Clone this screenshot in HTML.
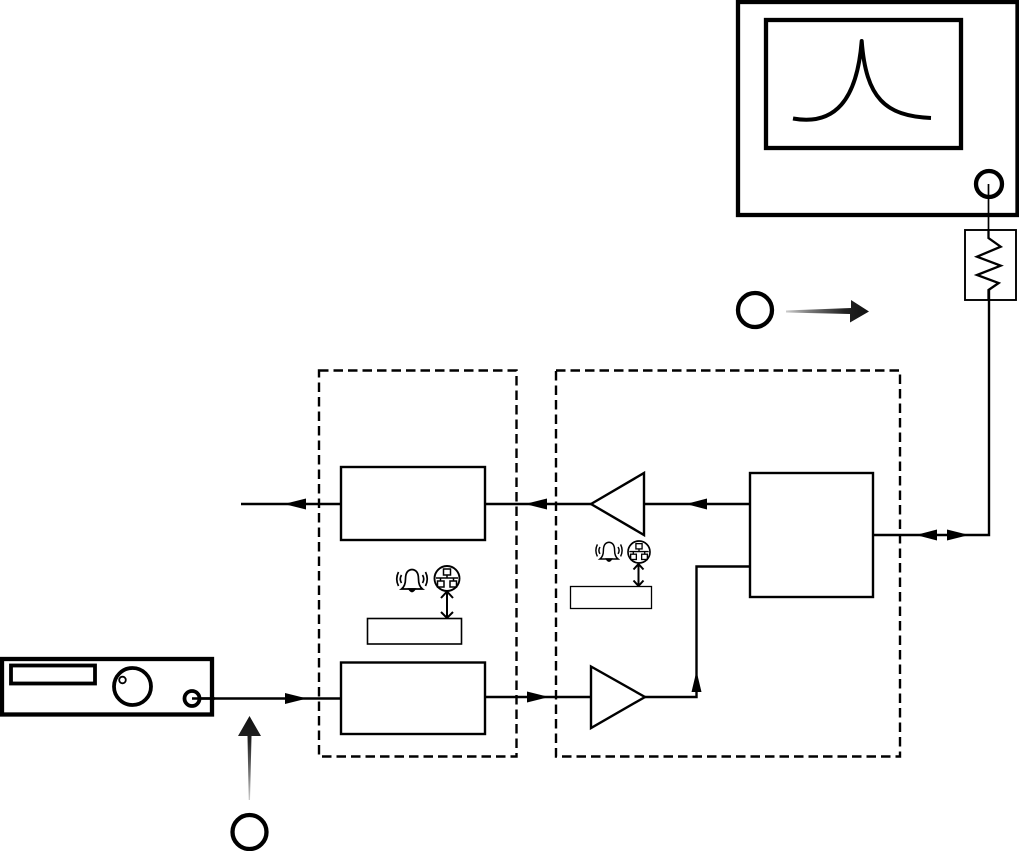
<!DOCTYPE html>
<html><head><meta charset="utf-8"><style>html,body{margin:0;padding:0;background:#fff;width:1019px;height:851px;overflow:hidden}svg{display:block}</style></head>
<body>
<svg width="1019" height="851" viewBox="0 0 1019 851" xmlns="http://www.w3.org/2000/svg">
<defs>
<linearGradient id="gh" gradientUnits="userSpaceOnUse" x1="786" y1="0" x2="869" y2="0"><stop offset="0" stop-color="#ccc"/><stop offset="0.3" stop-color="#777"/><stop offset="0.7" stop-color="#222"/><stop offset="1" stop-color="#111"/></linearGradient>
<linearGradient id="gv" gradientUnits="userSpaceOnUse" x1="0" y1="800" x2="0" y2="716"><stop offset="0" stop-color="#ccc"/><stop offset="0.3" stop-color="#777"/><stop offset="0.7" stop-color="#222"/><stop offset="1" stop-color="#111"/></linearGradient>
<g id="bell" fill="none" stroke="#000" stroke-width="1.7">
<path d="M-10.5 7 Q-6.5 4 -6.5 -3 Q-6.5 -12 0 -12.5 Q6.5 -12 6.5 -3 Q6.5 4 10.5 7 Z" fill="#fff"/>
<path d="M-3 7 Q0 12 3 7 Z" fill="#000"/>
<path d="M-10.5 -7 Q-13 -3 -10.5 1 M-13.5 -10 Q-17 -3 -13.5 4 M10.5 -7 Q13 -3 10.5 1 M13.5 -10 Q17 -3 13.5 4"/>
</g>
<g id="net" fill="none" stroke="#000">
<circle cx="0" cy="0" r="12.5" stroke-width="1.9" fill="#fff"/>
<rect x="-3.5" y="-9.5" width="7" height="6" stroke-width="1.5"/>
<path d="M0 -3.5V-0.5M-6.5 2.5V-0.5H6.5V2.5M-11 -0.5H11" stroke-width="1.5"/>
<rect x="-9.5" y="2.5" width="6.5" height="6" stroke-width="1.5"/>
<rect x="3" y="2.5" width="6.5" height="6" stroke-width="1.5"/>
</g>
</defs>

<!-- analyzer -->
<rect x="738" y="2" width="279.5" height="213" fill="none" stroke="#000" stroke-width="4.3"/>
<rect x="766" y="20" width="195" height="128" fill="none" stroke="#000" stroke-width="4.3"/>
<path d="M793 118.5 C835 126 857 100 861.7 41 C866 98 885 116 931 118" fill="none" stroke="#000" stroke-width="4" stroke-linejoin="round"/>
<circle cx="989" cy="184" r="13" fill="none" stroke="#000" stroke-width="4.3"/>
<path d="M988.5 184V238" stroke="#000" stroke-width="1.7" fill="none"/>
<rect x="965" y="230" width="51" height="70" fill="none" stroke="#000" stroke-width="1.9"/>
<path d="M988.5 229V238L1000.7 246.7L977 256.7L1000.7 265.7L977 275L998.7 283L988.5 290V300" fill="none" stroke="#000" stroke-width="2.3"/>

<!-- gradient arrow right with circle -->
<circle cx="755" cy="310" r="17" fill="#fff" stroke="#000" stroke-width="4.3"/>
<path d="M786 310.5L851 308V300L869 311.5L850 322.5V314L786 312.5Z" fill="url(#gh)"/>

<!-- dashed groups -->
<rect x="319" y="370.5" width="197.5" height="386" fill="none" stroke="#000" stroke-width="2.4" stroke-dasharray="9.5 5"/>
<rect x="556" y="370.5" width="344" height="386" fill="none" stroke="#000" stroke-width="2.4" stroke-dasharray="9.5 5"/>

<!-- blocks -->
<rect x="341" y="467" width="144" height="73" fill="#fff" stroke="#000" stroke-width="2.4"/>
<rect x="341" y="662.5" width="144" height="71.5" fill="#fff" stroke="#000" stroke-width="2.4"/>
<rect x="750" y="473" width="123" height="124" fill="#fff" stroke="#000" stroke-width="2.4"/>

<!-- connectors -->
<g fill="none" stroke="#000" stroke-width="2.4">
<path d="M241 504H341"/>
<path d="M485 504H591"/>
<path d="M644 504H750"/>
<path d="M873 535H989V290"/>
<path d="M192 698.5H341"/>
<path d="M485 697H591"/>
<path d="M645 697H696.5V566.5H750"/>
</g>

<!-- triangles -->
<path d="M591 504L644 473V535Z" fill="#fff" stroke="#000" stroke-width="2.4" stroke-linejoin="miter"/>
<path d="M591 666.5V728L645 697Z" fill="#fff" stroke="#000" stroke-width="2.4" stroke-linejoin="miter"/>

<!-- arrowheads -->
<g fill="#000">
<path d="M284 504L306 498.5V509.5Z"/>
<path d="M525 504L547 498.5V509.5Z"/>
<path d="M686 504L707 498.5V509.5Z"/>
<path d="M916 535L937 529.5V540.5Z"/>
<path d="M969 535L947 529.5V540.5Z"/>
<path d="M307 698.5L285 693V704Z"/>
<path d="M549 697L527 691.5V702.5Z"/>
<path d="M696.5 671L691.5 692H701.5Z"/>
</g>

<!-- signal generator -->
<rect x="2" y="659" width="210" height="55.5" fill="none" stroke="#000" stroke-width="4.3"/>
<rect x="11" y="665.5" width="84" height="18" fill="none" stroke="#000" stroke-width="3.8"/>
<circle cx="132.5" cy="686.5" r="18.5" fill="none" stroke="#000" stroke-width="3.8"/>
<circle cx="122.5" cy="680" r="3.3" fill="none" stroke="#000" stroke-width="1.8"/>
<circle cx="192" cy="698.5" r="7.5" fill="#fff" stroke="#000" stroke-width="3.8"/>
<path d="M192 698.5H215" stroke="#000" stroke-width="2.4"/>

<!-- gradient arrow up with circle -->
<path d="M248.7 800L247.5 736H238L249.5 716L261 736H251.5L250 800Z" fill="url(#gv)"/>
<circle cx="249.5" cy="832" r="17" fill="#fff" stroke="#000" stroke-width="4.3"/>

<!-- alarm / network icons left -->
<use href="#bell" x="412" y="582"/>
<use href="#net" x="447" y="578.5"/>
<path d="M447 592V618M441 598L447 591.5L453 598M441 612L447 618L453 612" fill="none" stroke="#000" stroke-width="2"/>
<rect x="367.5" y="618.5" width="94" height="25.5" fill="#fff" stroke="#000" stroke-width="1.6"/>

<!-- alarm / network icons right -->
<g transform="translate(609 553) scale(.86)"><use href="#bell"/></g>
<g transform="translate(639 552) scale(.88)"><use href="#net"/></g>
<path d="M638.5 564V586M633.5 569.5L638.5 564L643.5 569.5M633.5 580.5L638.5 586L643.5 580.5" fill="none" stroke="#000" stroke-width="2"/>
<rect x="570.5" y="586.5" width="81" height="22" fill="#fff" stroke="#000" stroke-width="1.3"/>
</svg>
</body></html>
